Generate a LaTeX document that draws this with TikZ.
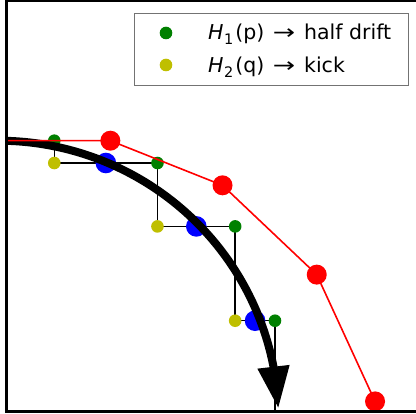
\documentclass[tikz,border=0pt]{standalone}
\usepackage{fontspec}
\setmainfont{DejaVu Sans}
\usetikzlibrary{arrows.meta,bending}
\definecolor{mplgreen}{RGB}{0,128,0}
\definecolor{mplyellow}{RGB}{191,191,0}
\newcommand{\lsub}[1]{\kern0.5pt\raisebox{-0.22em}{\fontsize{14.5pt}{14.5pt}\selectfont #1}\kern2pt}
\newcommand{\larr}{\hspace{8.5pt}\scalebox{1.3}[1]{→}\hspace{9pt}}
\begin{document}
\begin{tikzpicture}[x=1pt,y=1pt,
  stair/.style={line width=1.5pt,black},
  euler/.style={line width=1.6pt,red},
  flow/.style={line width=8pt,-{Triangle[length=42pt,width=30pt,flex]}},
  spine/.style={line width=2.8pt,black},
  legframe/.style={draw=black!55,line width=1pt,fill=white},
  legtext/.style={anchor=base west,inner sep=0pt,font=\fontsize{20.5pt}{24pt}\selectfont}]
\useasboundingbox (0,0) rectangle (416,414);
\begin{scope}
  \clip (6.7,2.2) rectangle (417,413);
  \begin{scope}[shift={(-1.8,-5.7)},x=280.4pt,y=279pt]
    % leapfrog path
    \coordinate (s0) at (0,1);
    \coordinate (g1) at (0.2,1);
    \coordinate (y1) at (0.2,0.92);
    \coordinate (b1) at (0.384,0.92);
    \coordinate (g2) at (0.568,0.92);
    \coordinate (y2) at (0.568,0.6928);
    \coordinate (b2) at (0.70656,0.6928);
    \coordinate (g3) at (0.84512,0.6928);
    \coordinate (y3) at (0.84512,0.354752);
    \coordinate (b3) at (0.9160704,0.354752);
    \coordinate (g4) at (0.9870208,0.354752);
    \coordinate (y4) at (0.9870208,-0.04);
    % Euler path
    \coordinate (r0) at (0,1);
    \coordinate (r1) at (0.4,1);
    \coordinate (r2) at (0.8,0.84);
    \coordinate (r3) at (1.136,0.52);
    \coordinate (r4) at (1.344,0.0656);
    \coordinate (ctr) at (0,0);
    \draw[stair] (s0) -- (g1) -- (y1) -- (g2) -- (y2) -- (g3) -- (y3) -- (g4) -- (y4);
    \foreach \p in {y1,y2,y3} \fill[mplyellow] (\p) circle[radius=6.3pt];
    \foreach \p in {g1,g2,g3,g4} \fill[mplgreen] (\p) circle[radius=6.3pt];
    \foreach \p in {b1,b2,b3} \fill[blue] (\p) circle[radius=10.3pt];
    \draw[flow] ([shift={(95:280.4pt and 279pt)}]ctr) arc[start angle=95,end angle=2.3,x radius=280.4pt,y radius=279pt];
    \draw[euler] (r0) -- (r1) -- (r2) -- (r3) -- (r4);
    \foreach \p in {r1,r2,r3,r4} \fill[red] (\p) circle[radius=10pt];
  \end{scope}
\end{scope}
% axes spines
\draw[spine] (6.7,2.2) rectangle (417.5,413);
% legend
\draw[legframe] (134,400.7) rectangle (408,328);
\fill[mplgreen] (166,381) circle[radius=6.3];
\fill[mplyellow] (166,349) circle[radius=6.3];
\node[legtext] (l1) at (208,374) {\textit{H}\lsub{1}(p)\larr half drift};
\node[legtext] (l2) at (208,341.3) {\textit{H}\lsub{2}(q)\larr kick};
\end{tikzpicture}
\end{document}
